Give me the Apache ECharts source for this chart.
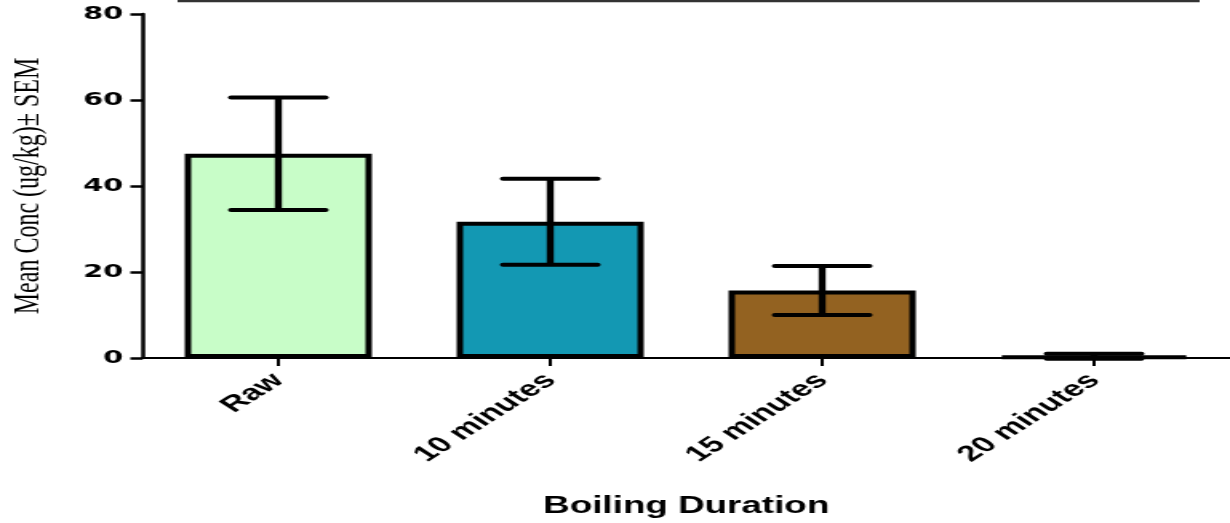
<!DOCTYPE html>
<html>
<head>
<meta charset="utf-8">
<script src="https://cdn.jsdelivr.net/npm/echarts@6/dist/echarts.min.js"></script>
<style>
html,body{margin:0;padding:0;background:#fff;overflow:hidden;}
#wrap{width:1230px;height:523px;overflow:hidden;}
#chart{width:769px;height:523px;transform:scaleX(1.5995);transform-origin:0 0;}
</style>
</head>
<body>
<div id="wrap"><div id="chart"></div></div>
<script>
// Data
var categories = ['Raw', '10 minutes', '15 minutes', '20 minutes'];
var meanValues = [47.5, 31.7, 15.7, 0.4];
var semValues = [13.1, 10.0, 5.7, 0.6];
var barColors = ['#c8fdc8', '#1398b3', '#936221', '#ffffff'];
var yTicks = [0, 20, 40, 60, 80];

var chart = echarts.init(document.getElementById('chart'), null, {renderer: 'canvas'});

var barData = meanValues.map(function (v, i) {
  return {value: v, itemStyle: {color: barColors[i]}};
});
var errData = meanValues.map(function (v, i) {
  return [i, v - semValues[i], v + semValues[i]];
});

var option = {
  animation: false,
  backgroundColor: '#fff',
  grid: {left: 89, right: 0, top: 14, bottom: 165, containLabel: false, outerBoundsMode: 'none'},
  xAxis: {
    type: 'category',
    data: categories,
    name: 'Boiling Duration',
    nameLocation: 'middle',
    nameGap: 137,
    nameTextStyle: {fontFamily: 'Liberation Sans', fontWeight: 'bold', fontSize: 23, color: '#000'},
    axisLine: {show: true, lineStyle: {color: '#000', width: 2}},
    axisTick: {show: true, alignWithLabel: true, length: 8, lineStyle: {color: '#000', width: 2}},
    axisLabel: {
      rotate: 45, margin: 19, interval: 0,
      fontFamily: 'Liberation Sans', fontWeight: 'bold', fontSize: 22, color: '#000'
    },
    splitLine: {show: false}
  },
  yAxis: {
    type: 'value',
    min: yTicks[0], max: yTicks[yTicks.length - 1], interval: 20,
    name: 'Mean Conc (ug/kg)\u00b1 SEM',
    nameLocation: 'middle',
    nameGap: 59,
    nameTextStyle: {fontFamily: 'Liberation Serif', fontSize: 24, color: '#000'},
    axisLine: {show: true, lineStyle: {color: '#000', width: 2.5}},
    axisTick: {show: true, length: 7.5, lineStyle: {color: '#000', width: 2.5}},
    axisLabel: {margin: 12, fontFamily: 'DejaVu Sans', fontWeight: 'bold', fontSize: 18, color: '#000'},
    splitLine: {show: false}
  },
  series: [
    {
      type: 'bar',
      data: barData,
      barWidth: 117,
      itemStyle: {borderColor: '#000', borderWidth: 4},
      z: 2
    },
    {
      type: 'custom',
      data: errData,
      z: 3,
      renderItem: function (params, api) {
        var x = api.value(0);
        var lo = api.coord([x, api.value(1)]);
        var hi = api.coord([x, api.value(2)]);
        var half = 29.5;
        var style = {stroke: '#000', lineWidth: 4, lineCap: 'round'};
        return {
          type: 'group',
          children: [
            {type: 'line', shape: {x1: hi[0], y1: hi[1], x2: lo[0], y2: lo[1]}, style: {stroke: '#000', lineWidth: 4.4}},
            {type: 'line', shape: {x1: hi[0] - half, y1: hi[1], x2: hi[0] + half, y2: hi[1]}, style: style},
            {type: 'line', shape: {x1: lo[0] - half, y1: lo[1], x2: lo[0] + half, y2: lo[1]}, style: style}
          ]
        };
      }
    }
  ],
  graphic: [
    {type: 'line', shape: {x1: 111, y1: 1, x2: 750, y2: 1}, style: {stroke: '#333', lineWidth: 2.5}}
  ]
};
chart.setOption(option);
</script>
</body>
</html>
